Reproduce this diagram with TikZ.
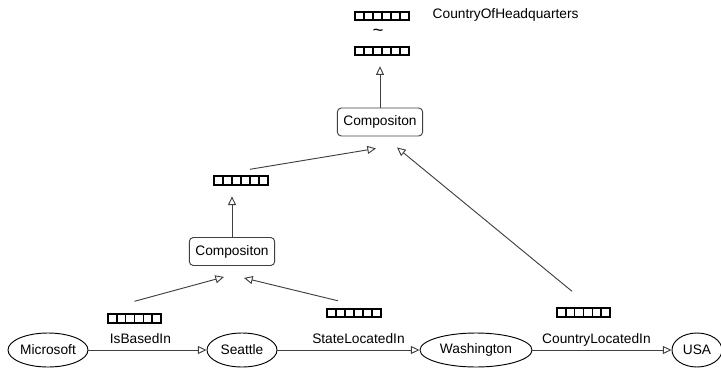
\documentclass[tikz,border=0pt]{standalone}
\usepackage{fontspec}
\setmainfont{Liberation Sans}
\usepackage{tikz}
\usetikzlibrary{positioning, calc, shapes.geometric, arrows.meta}

\tikzset{
        entity/.style = {draw, ellipse, inner sep = 0pt, minimum height =
        25.5pt, line width = 0.7pt},
        comp/.style = {draw = black!75, rectangle, rounded corners = 3pt,
        minimum width = 64pt, minimum height = 21pt, line width = 0.7pt},
        embed/.style = {draw, rectangle, line width = 1.3pt, inner sep = 0pt,
        minimum width = 40pt, minimum height = 6.5pt, path picture = {
        \foreach \k in {1,...,5}
        \draw [line width = 1.3pt] ($(path picture bounding box.south
        west)!\k/6!(path picture bounding box.south east)$) -- ++ (0pt,
        20pt);}},
        rel/.style = {-{Triangle[open, length = 6.5pt, width = 6pt]},
        draw = black!75, line width = 0.7pt}
}

\begin{document}
\begin{tikzpicture}[x = 0.75pt, y = -0.75pt, font =
        \fontsize{10.3}{12}\selectfont]
        \useasboundingbox (0,0) rectangle (721,368);
        \node (micro) [entity, minimum width = 60pt] at (48,350) {Microsoft};
        \node (seattle) [entity, minimum width = 52.5pt] at (242,350)
        {Seattle};
        \node (wash) [entity, minimum width = 84pt] at (476,350)
        {Washington};
        \node (usa) [entity, minimum width = 37.5pt] at (697,350) {USA};
        \draw [rel] (micro) -- (seattle) node [pos = 0.44, anchor = base,
        yshift = 5pt] {IsBasedIn};
        \draw [rel] (seattle) -- (wash) node [pos = 0.57, anchor = base,
        yshift = 5pt] {StateLocatedIn};
        \draw [rel] (wash) -- (usa) node [pos = 0.46, anchor = base,
        yshift = 5pt] {CountryLocatedIn};
        \node (v1) [embed] at (134.5,318.5) {};
        \node (v2) [embed] at (354,313) {};
        \node (v3) [embed] at (583.5,312.5) {};
        \node (c1) [comp] at (232,251.5) {Compositon};
        \node (v4) [embed] at (241,180.5) {};
        \node (c2) [comp] at (380,122) {Compositon};
        \node (v5) [embed] at (382,51) {};
        \node (tilde) at (378,33) {\fontsize{14}{14}\selectfont
        \textasciitilde};
        \node (v6) [embed] at (382,16) {};
        \node (query) [anchor = west] at (428,15) {CountryOfHeadquarters};
        \draw [rel] ($(v1.north) + (0,-12)$) -- ($(c1.south) + (-8,11)$);
        \draw [rel] ($(v2.north) + (-16,-7)$) -- ($(c1.south) + (12,12)$);
        \draw [rel, shorten >= 8pt] (c1.north) -- (c1.north |- v4.south);
        \draw [rel] ($(v4.north) + (9,-6)$) -- ($(c2.south) + (-4,12)$);
        \draw [rel] ($(v3.north) + (-11.5,-16)$) -- ($(c2.south) + (17,11)$);
        \draw [rel, shorten >= 7.5pt] (c2.north) -- (c2.north |- v5.south);
\end{tikzpicture}
\end{document}
